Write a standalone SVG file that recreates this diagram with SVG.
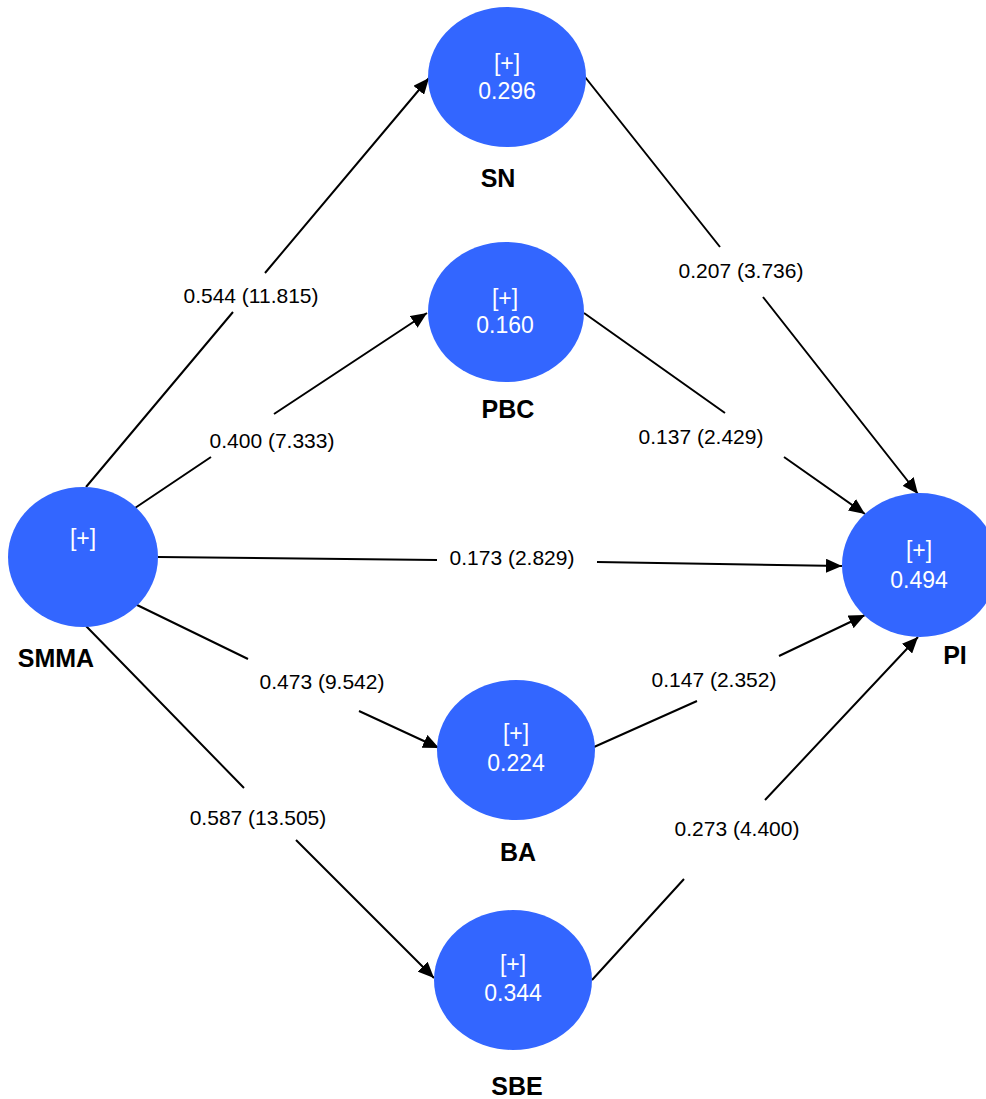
<svg xmlns="http://www.w3.org/2000/svg" width="986" height="1099" viewBox="0 0 986 1099">
<defs>
<marker id="arr" markerUnits="userSpaceOnUse" markerWidth="18" markerHeight="14" refX="16" refY="7" orient="auto">
<path d="M0,0 L16,7 L0,14 Z" fill="#000"/>
</marker>
<style>
.node{fill:#3366ff}
.in{font-family:"Liberation Sans",Arial,sans-serif;font-size:23px;fill:#fff;text-anchor:middle}
.nm{font-family:"Liberation Sans",Arial,sans-serif;font-size:25px;font-weight:bold;fill:#000;text-anchor:middle}
.el{font-family:"Liberation Sans",Arial,sans-serif;font-size:21px;fill:#000;text-anchor:middle}
.c{stroke:#000;stroke-width:2;fill:none;marker-end:url(#arr)}
</style>
</defs>
<rect width="986" height="1099" fill="#fff"/>
<g id="connectors">
<path class="c" d="M86,487 L233,312 M265,273 L429,78"/>
<path class="c" d="M135,508 L211,457 M274,414 L427,313"/>
<path class="c" d="M158,557 L437,560 M597,562 L842,566"/>
<path class="c" d="M135,604 L248,659 M359,711 L439,748"/>
<path class="c" d="M86,626 L244,788 M296,840 L434,978"/>
<path class="c" d="M585,77 L720,247 M763,297 L918,494"/>
<path class="c" d="M584,313 L725,413 M784,457 L865,514"/>
<path class="c" d="M594,747 L697,701 M779,656 L865,615"/>
<path class="c" d="M592,980 L684,879 M765,800 L918,637"/>
<text class="el" x="251" y="303">0.544 (11.815)</text>
<text class="el" x="272" y="448">0.400 (7.333)</text>
<text class="el" x="512" y="565">0.173 (2.829)</text>
<text class="el" x="322" y="689">0.473 (9.542)</text>
<text class="el" x="258" y="825">0.587 (13.505)</text>
<text class="el" x="741" y="278">0.207 (3.736)</text>
<text class="el" x="701" y="444">0.137 (2.429)</text>
<text class="el" x="714" y="687">0.147 (2.352)</text>
<text class="el" x="737" y="836">0.273 (4.400)</text>
</g>
<g id="SN">
<ellipse class="node" cx="507" cy="77" rx="79" ry="70"/>
<text class="in" x="507" y="71">[+]</text>
<text class="in" x="507" y="99">0.296</text>
<text class="nm" x="498" y="187">SN</text>
</g>
<g id="PBC">
<ellipse class="node" cx="506" cy="312" rx="78" ry="70"/>
<text class="in" x="505" y="306">[+]</text>
<text class="in" x="505" y="333">0.160</text>
<text class="nm" x="508" y="418">PBC</text>
</g>
<g id="SMMA">
<ellipse class="node" cx="83" cy="557" rx="75" ry="70"/>
<text class="in" x="83" y="546">[+]</text>
<text class="nm" x="56" y="667">SMMA</text>
</g>
<g id="PI">
<ellipse class="node" cx="920" cy="565" rx="78" ry="72"/>
<text class="in" x="919" y="558">[+]</text>
<text class="in" x="919" y="588">0.494</text>
<text class="nm" x="955" y="664">PI</text>
</g>
<g id="BA">
<ellipse class="node" cx="516" cy="750" rx="79" ry="70"/>
<text class="in" x="516" y="741">[+]</text>
<text class="in" x="516" y="771">0.224</text>
<text class="nm" x="518" y="861">BA</text>
</g>
<g id="SBE">
<ellipse class="node" cx="513" cy="980" rx="79" ry="70"/>
<text class="in" x="513" y="972">[+]</text>
<text class="in" x="513" y="1001">0.344</text>
<text class="nm" x="517" y="1095">SBE</text>
</g>
</svg>
